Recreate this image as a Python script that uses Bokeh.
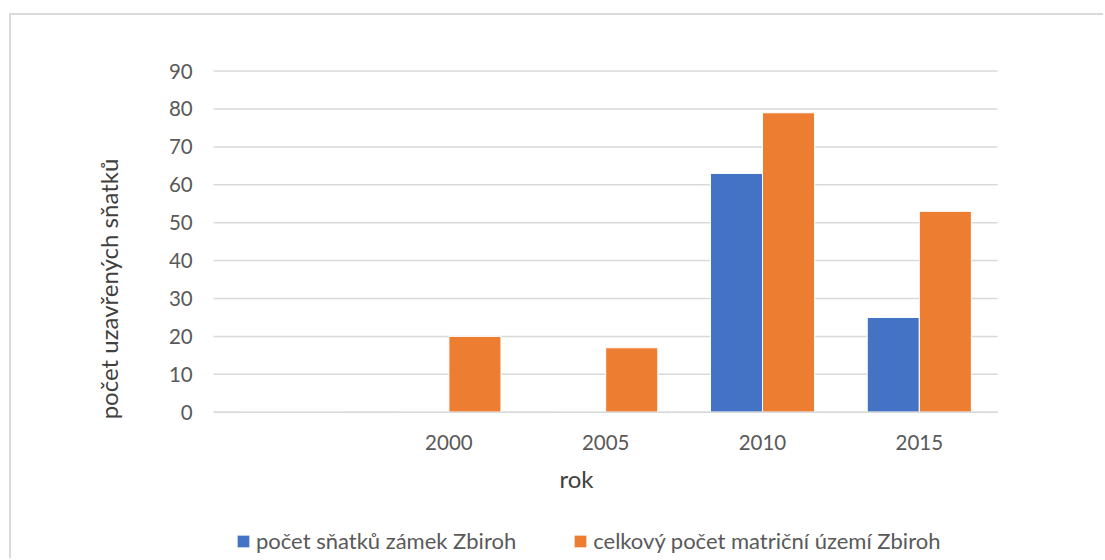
import math
from bokeh.plotting import figure
from bokeh.models import (Range1d, FixedTicker, Label, Legend, LegendItem, ColumnDataSource)
from bokeh.embed import file_html
from bokeh.resources import INLINE

# ---- data ----
categories = ["", "2000", "2005", "2010", "2015"]
zamek = [0, 0, 0, 63, 25]          # počet sňatků zámek Zbiroh
celkem = [0, 20, 17, 79, 53]       # celkový počet matriční území Zbiroh
y_ticks = [0, 10, 20, 30, 40, 50, 60, 70, 80, 90]
series_names = ["počet sňatků zámek Zbiroh", "celkový počet matriční území Zbiroh"]
x_title = "rok"
y_title = "počet uzavřených sňatků"

FONT = "Lato"
BLUE = "#4472C4"
ORANGE = "#ED7D31"
GRID = "#D9D9D9"
TICK = "#595959"
TITLE = "#404040"

xs = list(range(len(categories)))
x_lo, x_hi = -0.5, len(categories) - 0.5
y_lo, y_hi = y_ticks[0], y_ticks[-1]
bw = 0.332
src = ColumnDataSource(dict(
    x1=[x - bw / 2 for x in xs], x2=[x + bw / 2 for x in xs],
    zamek=zamek, celkem=celkem))

# The frame covers the whole chart box; the plot area (x_lo..x_hi, y_lo..y_hi)
# sits inside it, with the axes pinned to its left and bottom edges.
p = figure(width=1094, height=545, output_backend="svg", toolbar_location=None,
           x_range=Range1d(-1.7895, 5.1875), y_range=Range1d(-39.13, 104.67),
           min_border=0, min_border_left=0, min_border_right=0,
           min_border_top=0, min_border_bottom=0)
p.styles = {"border-top": "2px solid #D9D9D9", "border-left": "2px solid #D9D9D9",
            "margin-top": "13px", "margin-left": "9px"}
p.outline_line_color = None
p.background_fill_color = "white"
p.border_fill_color = "white"
p.grid.visible = False

# horizontal gridlines at the y ticks, across the plot area
p.segment(x0=[x_lo] * len(y_ticks), x1=[x_hi] * len(y_ticks), y0=y_ticks, y1=y_ticks,
          line_color=GRID, line_width=1.5)

r1 = p.vbar(x="x1", top="zamek", width=bw, source=src, fill_color=BLUE,
            line_color="white", line_width=1)
r2 = p.vbar(x="x2", top="celkem", width=bw, source=src, fill_color=ORANGE,
            line_color="white", line_width=1)

# category axis baseline (drawn over the bar bottoms)
p.segment(x0=[x_lo], x1=[x_hi], y0=[y_lo], y1=[y_lo], line_color=GRID, line_width=1.5)

yax = p.yaxis[0]
yax.fixed_location = x_lo
yax.bounds = (y_lo, y_hi)
yax.ticker = FixedTicker(ticks=y_ticks)
yax.axis_line_color = None
yax.major_tick_line_color = None
yax.minor_tick_line_color = None
yax.major_tick_out = 0
yax.major_label_standoff = 21
yax.major_label_text_font = FONT
yax.major_label_text_font_size = "20.5px"
yax.major_label_text_color = TICK

xax = p.xaxis[0]
xax.fixed_location = y_lo
xax.bounds = (x_lo, x_hi)
xax.ticker = FixedTicker(ticks=xs)
xax.major_label_overrides = {i: c for i, c in zip(xs, categories)}
xax.axis_line_color = None
xax.major_tick_line_color = None
xax.minor_tick_line_color = None
xax.major_tick_out = 0
xax.major_label_standoff = 23
xax.major_label_text_font = FONT
xax.major_label_text_font_size = "20.5px"
xax.major_label_text_color = TICK

p.add_layout(Label(x=-1.171, y=32.5, text=y_title, angle=math.pi / 2,
                   text_align="center", text_baseline="middle",
                   text_font=FONT, text_font_size="24px", text_color=TITLE))
p.add_layout(Label(x=1.814, y=-17.4, text=x_title, text_align="center",
                   text_baseline="middle", text_font=FONT,
                   text_font_size="24px", text_color=TITLE))

legend = Legend(items=[LegendItem(label=series_names[0], renderers=[r1]),
                       LegendItem(label=series_names[1], renderers=[r2])],
                orientation="horizontal", location=(224, 6),
                glyph_width=16, glyph_height=16, label_standoff=5, spacing=56,
                padding=0, margin=0, border_line_color=None, background_fill_alpha=0,
                label_text_font=FONT, label_text_font_size="22px", label_text_color=TICK)
p.add_layout(legend, "center")

open("out.html", "w").write(file_html(p, INLINE))
